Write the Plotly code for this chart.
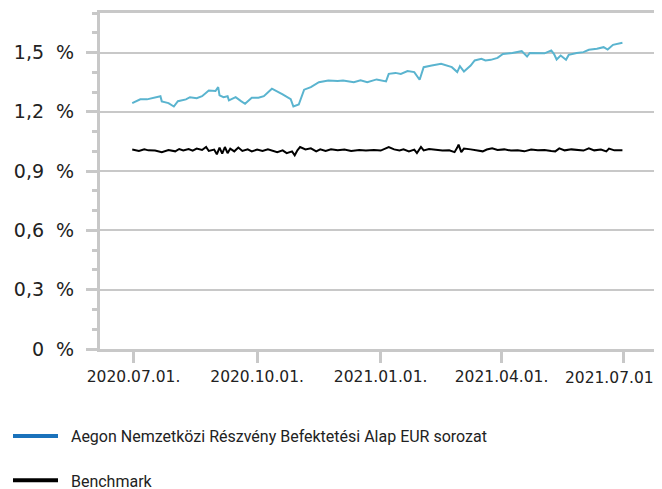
import plotly.graph_objects as go

# ---------------- data ----------------
fund_name = "Aegon Nemzetközi Részvény Befektetési Alap EUR sorozat"
bench_name = "Benchmark"

fund_dates = ["2020-06-30","2020-07-06","2020-07-11","2020-07-16","2020-07-21","2020-07-22","2020-07-27","2020-07-31",
              "2020-08-03","2020-08-09","2020-08-12","2020-08-17","2020-08-21","2020-08-26","2020-08-31","2020-09-02",
              "2020-09-03","2020-09-06","2020-09-09","2020-09-10","2020-09-15","2020-09-19","2020-09-22","2020-09-27",
              "2020-10-02","2020-10-06","2020-10-12","2020-10-20","2020-10-26","2020-10-28","2020-11-01","2020-11-05",
              "2020-11-10","2020-11-16","2020-11-23","2020-11-30","2020-12-04","2020-12-12","2020-12-17","2020-12-22",
              "2020-12-29","2021-01-05","2021-01-07","2021-01-12","2021-01-16","2021-01-21","2021-01-26","2021-01-30",
              "2021-02-02","2021-02-08","2021-02-15","2021-02-23","2021-02-27","2021-03-01","2021-03-04","2021-03-09",
              "2021-03-12","2021-03-17","2021-03-20","2021-03-24","2021-03-29","2021-04-02","2021-04-09","2021-04-16",
              "2021-04-20","2021-04-22","2021-04-28","2021-05-03","2021-05-08","2021-05-10","2021-05-12","2021-05-15",
              "2021-05-19","2021-05-21","2021-05-27","2021-06-01","2021-06-05","2021-06-11","2021-06-16","2021-06-19",
              "2021-06-23","2021-06-26","2021-06-30"]
fund_values = [1.244,1.263,1.263,1.273,1.279,1.253,1.244,1.227,1.254,1.263,1.274,1.269,1.279,1.308,1.305,1.325,
               1.283,1.274,1.279,1.258,1.274,1.254,1.241,1.271,1.271,1.279,1.317,1.288,1.264,1.227,1.237,1.312,
               1.325,1.350,1.359,1.356,1.359,1.350,1.359,1.350,1.364,1.354,1.392,1.397,1.392,1.406,1.401,1.362,
               1.426,1.434,1.443,1.426,1.401,1.431,1.404,1.434,1.460,1.468,1.460,1.463,1.473,1.493,1.498,1.507,
               1.480,1.498,1.498,1.496,1.510,1.493,1.465,1.485,1.463,1.488,1.498,1.502,1.514,1.519,1.527,1.515,
               1.539,1.544,1.549]

bench_dates = ["2020-06-30","2020-07-05","2020-07-09","2020-07-12","2020-07-17","2020-07-22","2020-07-27","2020-08-01",
               "2020-08-04","2020-08-07","2020-08-11","2020-08-14","2020-08-17","2020-08-21","2020-08-24","2020-08-26",
               "2020-08-30","2020-09-01","2020-09-03","2020-09-05","2020-09-07","2020-09-09","2020-09-11","2020-09-14",
               "2020-09-17","2020-09-20","2020-09-24","2020-09-27","2020-10-01","2020-10-05","2020-10-09","2020-10-12",
               "2020-10-16","2020-10-20","2020-10-23","2020-10-27","2020-10-29","2020-10-31","2020-11-02","2020-11-06",
               "2020-11-10","2020-11-14","2020-11-17","2020-11-21","2020-11-25","2020-11-30","2020-12-05","2020-12-10",
               "2020-12-16","2020-12-21","2020-12-27","2021-01-01","2021-01-05","2021-01-07","2021-01-11","2021-01-15",
               "2021-01-18","2021-01-22","2021-01-26","2021-01-28","2021-01-31","2021-02-02","2021-02-06","2021-02-11",
               "2021-02-16","2021-02-21","2021-02-25","2021-02-27","2021-02-28","2021-03-02","2021-03-04","2021-03-09",
               "2021-03-14","2021-03-18","2021-03-21","2021-03-25","2021-03-29","2021-04-03","2021-04-08","2021-04-13",
               "2021-04-18","2021-04-23","2021-04-28","2021-05-03","2021-05-08","2021-05-11","2021-05-14","2021-05-18",
               "2021-05-23","2021-05-28","2021-06-01","2021-06-05","2021-06-09","2021-06-14","2021-06-18","2021-06-20",
               "2021-06-24","2021-06-30"]
bench_values = [1.009,1.002,1.010,1.005,1.004,0.996,1.007,1.000,1.012,1.005,1.012,1.004,1.014,1.007,1.022,1.002,
                1.009,0.985,1.019,0.988,1.022,0.991,1.014,1.000,1.019,1.002,1.010,1.000,1.009,1.002,1.010,1.005,
                0.996,1.005,0.991,1.000,0.980,1.005,1.022,1.010,1.015,1.000,1.010,1.002,1.010,1.005,1.009,1.002,
                1.007,1.004,1.007,1.004,1.014,1.022,1.010,1.005,1.010,1.000,1.009,0.991,1.022,1.005,1.012,1.007,
                1.004,1.005,0.996,1.019,1.034,0.996,1.014,1.010,1.005,1.000,1.009,1.015,1.007,1.010,1.004,1.005,
                1.000,1.009,1.005,1.007,1.002,1.000,1.015,1.005,1.010,1.005,1.004,1.015,1.005,1.009,1.000,1.014,
                1.005,1.005]

y_tick_vals = [0, 0.3, 0.6, 0.9, 1.2, 1.5]
y_tick_text = ["0\u00a0\u00a0%", "0,3\u00a0\u00a0%", "0,6\u00a0\u00a0%", "0,9\u00a0\u00a0%", "1,2\u00a0\u00a0%", "1,5\u00a0\u00a0%"]
x_tick_vals = ["2020-07-01", "2020-10-01", "2021-01-01", "2021-04-01", "2021-07-01"]
x_tick_text = ["2020.07.01.", "2020.10.01.", "2021.01.01.", "2021.04.01.", "2021.07.01."]

# ---------------- style ----------------
FUND_LINE = "#5ab4cf"
FUND_LEGEND = "#1a72bb"
BENCH = "#000000"
AXIS = "#c8c8c8"
TEXT = "#222222"
LEGEND_FONT = dict(family="Roboto", size=16, color=TEXT)
XFONT = dict(family="DejaVu Sans", size=15.5, color=TEXT)
PAD = "\u00a0\u00a0"

fig = go.Figure()
fig.add_trace(go.Scatter(x=fund_dates, y=fund_values, mode="lines", name=fund_name,
                         line=dict(color=FUND_LINE, width=2), showlegend=False))
fig.add_trace(go.Scatter(x=bench_dates, y=bench_values, mode="lines", name=bench_name,
                         line=dict(color=BENCH, width=2), showlegend=False, xaxis="x2"))
# legend entries
fig.add_trace(go.Scatter(x=[None], y=[None], mode="lines", name=PAD + fund_name,
                         line=dict(color=FUND_LEGEND, width=4), legend="legend"))
fig.add_trace(go.Scatter(x=[None], y=[None], mode="lines", name=PAD + bench_name,
                         line=dict(color=BENCH, width=4), legend="legend2"))

x_range = ["2020-06-06", "2021-07-25"]

fig.update_layout(
    width=662, height=489,
    margin=dict(l=92, r=14, t=5, b=148, autoexpand=False),
    paper_bgcolor="white", plot_bgcolor="white",
    xaxis=dict(
        type="date", range=x_range,
        tickvals=x_tick_vals, ticktext=x_tick_text[:-1] + [""], tickangle=0,
        showgrid=False, zeroline=False,
        showline=True, linecolor=AXIS, linewidth=3, mirror=True,
        ticks="outside", ticklen=11, tickwidth=3, tickcolor=AXIS,
        tickfont=XFONT, ticklabelstandoff=0,
    ),
    # overlay axis carrying only the last (shifted-to-fit) date label
    xaxis2=dict(
        type="date", range=x_range, matches="x", overlaying="x", anchor="y", side="bottom",
        tickvals=x_tick_vals[-1:], ticktext=x_tick_text[-1:], tickangle=0,
        ticklabelshift=-12, ticklabeloverflow="allow",
        showgrid=False, zeroline=False, showline=False,
        ticks="outside", ticklen=11, tickwidth=3, tickcolor="rgba(0,0,0,0)",
        tickfont=XFONT, ticklabelstandoff=3,
    ),
    yaxis=dict(
        range=[0, 1.7], tickvals=y_tick_vals, ticktext=y_tick_text,
        showgrid=True, gridcolor=AXIS, gridwidth=2, zeroline=False,
        showline=True, linecolor=AXIS, linewidth=3, mirror=True,
        ticks="outside", ticklen=11, tickwidth=3, tickcolor=AXIS,
        tickfont=dict(family="DejaVu Sans", size=19, color=TEXT), ticklabelstandoff=8,
        minor=dict(dtick=0.1, ticks="outside", ticklen=5, tickwidth=3, tickcolor=AXIS, showgrid=False),
    ),
    legend=dict(xref="container", yref="container", x=0, y=0.1247, xanchor="left", yanchor="middle",
                font=LEGEND_FONT, itemwidth=45, bgcolor="rgba(0,0,0,0)"),
    legend2=dict(xref="container", yref="container", x=0, y=0.034, xanchor="left", yanchor="middle",
                 font=LEGEND_FONT, itemwidth=45, bgcolor="rgba(0,0,0,0)"),
)

fig.write_html("out.html")
